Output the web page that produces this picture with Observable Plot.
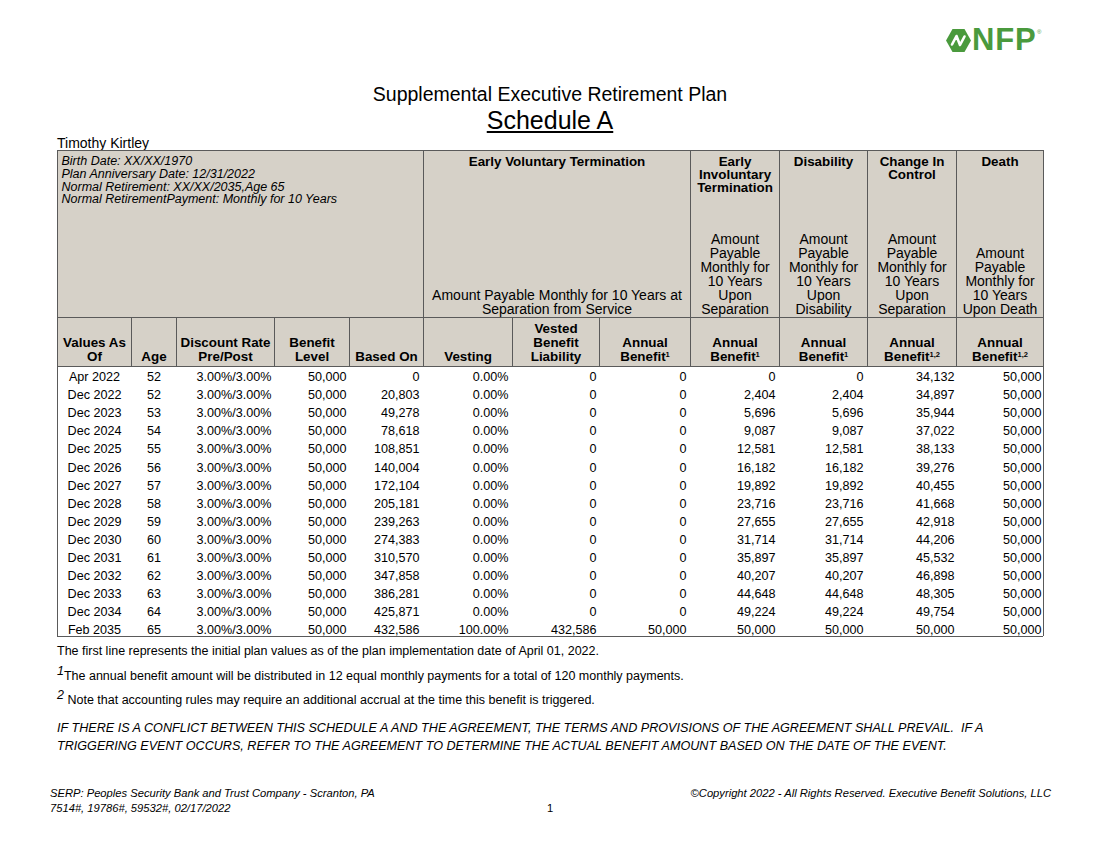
<!DOCTYPE html>
<html><head><meta charset="utf-8">
<script src="https://cdn.jsdelivr.net/npm/d3@7"></script>
<script src="https://cdn.jsdelivr.net/npm/@observablehq/plot@0.6"></script>
<style>
body{margin:0;background:#fff;font-family:"Liberation Sans",Arial,sans-serif;color:#000;}
#page{position:relative;width:1100px;height:850px;overflow:hidden;background:#fff;}
.abs{position:absolute;white-space:nowrap;}
.sup{font-style:italic;position:relative;top:-5px;}
</style></head><body><div id="page">
<svg class="abs" style="left:946px;top:28px;" width="25" height="25" viewBox="0 0 25 25">
  <polygon points="0,12.5 6.5,1 18.5,1 25,12.5 18.5,24 6.5,24" fill="#4a9a3d"/>
  <path d="M6,16.5 L10.5,8 L14,17 L18.5,8.5" fill="none" stroke="#fff" stroke-width="2.6" stroke-linejoin="round" stroke-linecap="round"/>
</svg>
<div class="abs" style="left:972px;top:24px;font-size:31px;line-height:31px;font-weight:bold;color:#4a9a3d;letter-spacing:0.8px;">NFP</div>
<div class="abs" style="left:1037px;top:29px;font-size:6px;line-height:6px;color:#4a9a3d;">®</div>
<div class="abs" style="left:0;width:1100px;top:83px;text-align:center;font-size:19.5px;line-height:22px;">Supplemental Executive Retirement Plan</div>
<div class="abs" style="left:0;width:1100px;top:106px;text-align:center;font-size:25px;line-height:28px;"><span style="text-decoration:underline;">Schedule A</span></div>
<div class="abs" style="left:57px;top:135px;font-size:14px;line-height:16px;">Timothy Kirtley</div>
<div class="abs" id="chart" style="left:0;top:148px;"></div>
<div class="abs" style="left:57px;top:644px;font-size:12.5px;line-height:14px;">The first line represents the initial plan values as of the plan implementation date of April 01, 2022.</div>
<div class="abs" style="left:57px;top:669px;font-size:12.5px;line-height:14px;"><span class="sup">1</span>The annual benefit amount will be distributed in 12 equal monthly payments for a total of 120 monthly payments.</div>
<div class="abs" style="left:57px;top:693px;font-size:12.5px;line-height:14px;"><span class="sup">2</span> Note that accounting rules may require an additional accrual at the time this benefit is triggered.</div>
<div class="abs" style="left:57px;top:719px;font-size:12.6px;line-height:18px;font-style:italic;">IF THERE IS A CONFLICT BETWEEN THIS SCHEDULE A AND THE AGREEMENT, THE TERMS AND PROVISIONS OF THE AGREEMENT SHALL PREVAIL.&nbsp; IF A<br>TRIGGERING EVENT OCCURS, REFER TO THE AGREEMENT TO DETERMINE THE ACTUAL BENEFIT AMOUNT BASED ON THE DATE OF THE EVENT.</div>
<div class="abs" style="left:50px;top:786px;font-size:11.2px;line-height:14px;font-style:italic;">SERP: Peoples Security Bank and Trust Company - Scranton, PA</div>
<div class="abs" style="left:50px;top:801px;font-size:11.2px;line-height:14px;font-style:italic;">7514#, 19786#, 59532#, 02/17/2022</div>
<div class="abs" style="left:540px;width:20px;top:801px;font-size:11.2px;line-height:14px;text-align:center;">1</div>
<div class="abs" style="right:49px;top:786px;font-size:11.2px;line-height:14px;font-style:italic;">©Copyright 2022 - All Rights Reserved. Executive Benefit Solutions, LLC</div>
</div>
<script>
// ---------- DATA ----------
const valuesAsOf = ["Apr 2022","Dec 2022","Dec 2023","Dec 2024","Dec 2025","Dec 2026","Dec 2027","Dec 2028","Dec 2029","Dec 2030","Dec 2031","Dec 2032","Dec 2033","Dec 2034","Feb 2035"];
const age = [52,52,53,54,55,56,57,58,59,60,61,62,63,64,65];
const discountRate = ["3.00%/3.00%","3.00%/3.00%","3.00%/3.00%","3.00%/3.00%","3.00%/3.00%","3.00%/3.00%","3.00%/3.00%","3.00%/3.00%","3.00%/3.00%","3.00%/3.00%","3.00%/3.00%","3.00%/3.00%","3.00%/3.00%","3.00%/3.00%","3.00%/3.00%"];
const benefitLevel = [50000,50000,50000,50000,50000,50000,50000,50000,50000,50000,50000,50000,50000,50000,50000];
const basedOn = [0,20803,49278,78618,108851,140004,172104,205181,239263,274383,310570,347858,386281,425871,432586];
const vesting = [0,0,0,0,0,0,0,0,0,0,0,0,0,0,100];
const vestedBenefitLiability = [0,0,0,0,0,0,0,0,0,0,0,0,0,0,432586];
const annualBenefitVoluntary = [0,0,0,0,0,0,0,0,0,0,0,0,0,0,50000];
const annualBenefitInvoluntary = [0,2404,5696,9087,12581,16182,19892,23716,27655,31714,35897,40207,44648,49224,50000];
const annualBenefitDisability = [0,2404,5696,9087,12581,16182,19892,23716,27655,31714,35897,40207,44648,49224,50000];
const annualBenefitChangeInControl = [34132,34897,35944,37022,38133,39276,40455,41668,42918,44206,45532,46898,48305,49754,50000];
const annualBenefitDeath = [50000,50000,50000,50000,50000,50000,50000,50000,50000,50000,50000,50000,50000,50000,50000];

const columnLabels = ["Values As\nOf","Age","Discount Rate\nPre/Post","Benefit\nLevel","Based On","Vesting","Vested\nBenefit\nLiability","Annual\nBenefit^1","Annual\nBenefit^1","Annual\nBenefit^1","Annual\nBenefit^1,2","Annual\nBenefit^1,2"];
const infoLines = ["Birth Date: XX/XX/1970","Plan Anniversary Date: 12/31/2022","Normal Retirement: XX/XX/2035,Age 65","Normal RetirementPayment: Monthly for 10 Years"];
const eventTitles = ["Early Voluntary Termination","Early\nInvoluntary\nTermination","Disability","Change In\nControl","Death"];
const eventDescriptions = ["Amount Payable Monthly for 10 Years at\nSeparation from Service","Amount\nPayable\nMonthly for\n10 Years\nUpon\nSeparation","Amount\nPayable\nMonthly for\n10 Years\nUpon\nDisability","Amount\nPayable\nMonthly for\n10 Years\nUpon\nSeparation","Amount\nPayable\nMonthly for\n10 Years\nUpon Death"];

// ---------- LAYOUT ----------
const colWidths = [74,45,98,75,74,89,87,91,89,88,89,87];
const colPad = [0,0,3,3,4,4,3,4,4,4,2,2];
const eventSpans = [[5,8],[8,9],[9,10],[10,11],[11,12]];
const edges = Array.from(d3.cumsum([0, ...colWidths]));
const total = edges[edges.length - 1];
const L = {top:150, hdr1:317, hdr2:366, bottom:636, firstRow:376.6, rowH:18.08};
const headerFill = "#d6d1c8", lineColor = "#5a5a5a";

const series = [valuesAsOf, age, discountRate, benefitLevel, basedOn, vesting, vestedBenefitLiability,
  annualBenefitVoluntary, annualBenefitInvoluntary, annualBenefitDisability, annualBenefitChangeInControl, annualBenefitDeath];
const fmtNum = d3.format(",");
const fmtCell = (c, v) => c <= 2 ? String(v) : c === 5 ? d3.format(".2f")(v) + "%" : fmtNum(v);

const cells = valuesAsOf.flatMap((_, i) => series.map((s, c) => ({
  c, y: L.firstRow + i * L.rowH,
  x: c <= 1 ? (edges[c] + edges[c+1]) / 2 : edges[c+1] - colPad[c],
  text: fmtCell(c, s[i])
})));

const vLines = [
  ...[0, 5, 8, 9, 10, 11, 12].map(k => ({x: edges[k], y1: L.top, y2: L.hdr1})),
  ...edges.map(e => ({x: e, y1: L.hdr1, y2: L.hdr2})),
  {x: 0, y1: L.hdr2, y2: L.bottom}, {x: total, y1: L.hdr2, y2: L.bottom}
];
const hLines = [L.top, L.hdr1, L.hdr2, L.bottom].map(y => ({y, x1: 0, x2: total}));

const titles = eventTitles.map((t, k) => ({text: t, x: (edges[eventSpans[k][0]] + edges[eventSpans[k][1]]) / 2}));
const descs = eventDescriptions.map((t, k) => ({text: t, x: (edges[eventSpans[k][0]] + edges[eventSpans[k][1]]) / 2}));
const labels = columnLabels.map((t, c) => ({text: t, x: (edges[c] + edges[c+1]) / 2}));

const chart = Plot.plot({
  width: 1100, height: 492,
  margin: 0, marginLeft: 57, marginRight: 57,
  x: {domain: [0, total], axis: null},
  y: {domain: [148, 640], range: [0, 492], axis: null},
  style: {fontFamily: '"Liberation Sans", Arial, sans-serif', background: "transparent", color: "#000", overflow: "visible"},
  marks: [
    Plot.rect([{x1: 0, x2: total, y1: L.top, y2: L.hdr2}], {x1: "x1", x2: "x2", y1: "y1", y2: "y2", fill: headerFill}),
    Plot.ruleX(vLines, {x: "x", y1: "y1", y2: "y2", stroke: lineColor}),
    Plot.ruleY(hLines, {y: "y", x1: "x1", x2: "x2", stroke: lineColor}),
    Plot.text([infoLines.join("\n")], {x: () => 0, y: () => 155.5, text: d => d, dx: 4, textAnchor: "start", lineAnchor: "top", lineHeight: 1.02, fontSize: 12.5, fontStyle: "italic", fill: "#000"}),
    Plot.text(titles, {x: "x", y: () => 156, text: "text", textAnchor: "middle", lineAnchor: "top", lineHeight: 0.97, fontSize: 13.4, fontWeight: "bold", fill: "#000"}),
    Plot.text(descs, {x: "x", y: () => 313, text: "text", textAnchor: "middle", lineAnchor: "bottom", lineHeight: 1.0, fontSize: 14, fill: "#000"}),
    Plot.text(labels, {x: "x", y: () => 360, text: "text", textAnchor: "middle", lineAnchor: "bottom", lineHeight: 1.03, fontSize: 13.4, fontWeight: "bold", fill: "#000"}),
    Plot.text(cells.filter(d => d.c <= 1), {x: "x", y: "y", text: "text", textAnchor: "middle", fontSize: 12.6, fill: "#000"}),
    Plot.text(cells.filter(d => d.c > 1), {x: "x", y: "y", text: "text", textAnchor: "end", fontSize: 12.6, fill: "#000"})
  ]
});

// superscripts ("Benefit^1" -> Benefit¹); the superscript is the last run of its line
const NS = "http://www.w3.org/2000/svg";
chart.querySelectorAll("text, tspan").forEach(el => {
  const node = Array.from(el.childNodes).find(n => n.nodeType === 3 && n.nodeValue.includes("^"));
  if (!node) return;
  const [base, sup] = node.nodeValue.split("^");
  node.nodeValue = base;
  const st = document.createElementNS(NS, "tspan");
  st.setAttribute("font-size", "7.5");
  st.setAttribute("dy", "-4");
  st.textContent = sup;
  el.appendChild(st);
});
document.getElementById("chart").appendChild(chart);
</script>
</body></html>
